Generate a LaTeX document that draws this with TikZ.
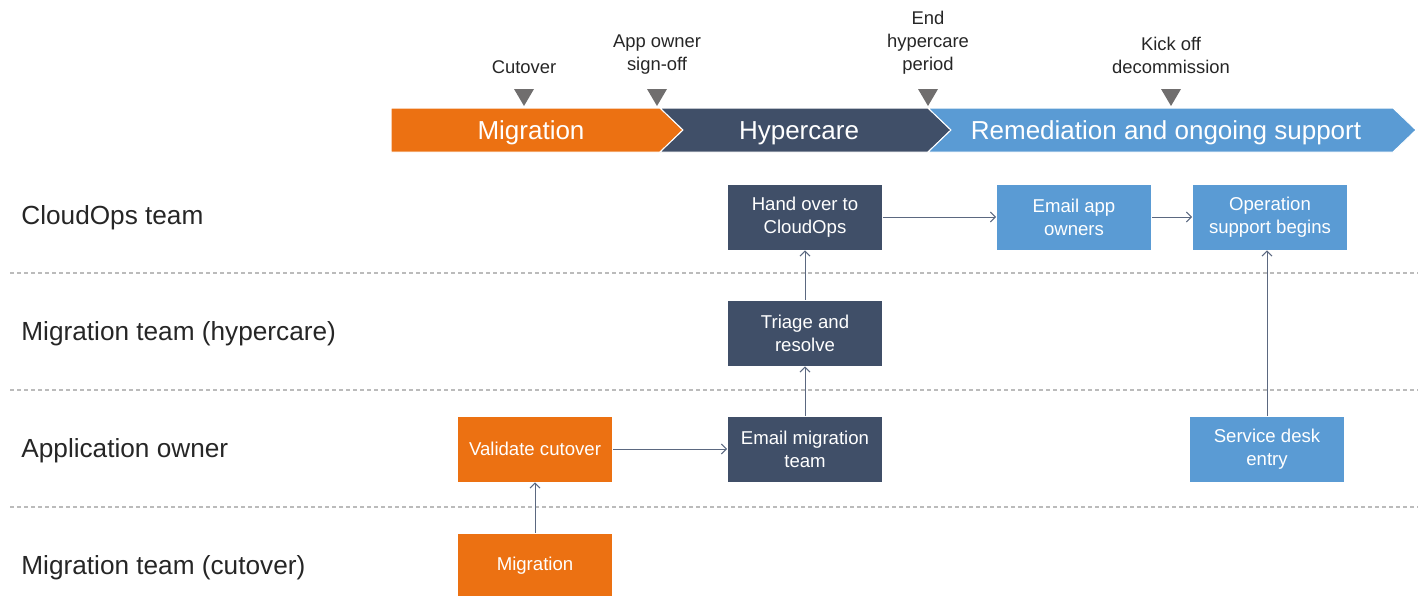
\documentclass[tikz,border=0pt]{standalone}
\usepackage{fontspec}
\setmainfont{Liberation Sans}
\usetikzlibrary{arrows.meta}

\definecolor{migorange}{HTML}{EC7112}
\definecolor{hypernavy}{HTML}{404F68}
\definecolor{remblue}{HTML}{5A9BD4}
\definecolor{mgray}{HTML}{706E6E}
\definecolor{linegray}{HTML}{5B6880}
\definecolor{lanegray}{HTML}{BBBBBB}

\begin{document}
\begin{tikzpicture}[x=0.5pt,y=-0.5pt,
    task/.style={minimum width=77.5pt,minimum height=33pt,inner sep=1pt,align=center,
        text=white,draw=white,line width=0.4pt,font=\fontsize{9.3}{11.5}\selectfont},
    lane/.style={anchor=base west,inner sep=0pt,text=black!85,font=\fontsize{13.1}{16}\selectfont},
    mile/.style={align=center,text=black!85,font=\fontsize{9.2}{11.5}\selectfont},
    phase/.style={anchor=base,text=white,font=\fontsize{13}{15}\selectfont},
    flow/.style={draw=linegray,line width=0.5pt,-{Straight Barb[length=2.5pt,width=5pt]}},
    sep/.style={draw=lanegray,line width=0.6pt,dash pattern=on 2pt off 1.5pt}]
    \useasboundingbox (0,0) rectangle (1422,595);

    % phase bar
    \fill[migorange,draw=white,line width=0.5pt] (391,108) -- (660,108) -- (683,130) -- (660,152) -- (391,152) -- cycle;
    \fill[hypernavy,draw=white,line width=0.5pt] (660,108) -- (928,108) -- (951,130) -- (928,152) -- (660,152) -- (683,130) -- cycle;
    \fill[remblue,draw=white,line width=0.5pt] (928,108) -- (1393,108) -- (1416,130) -- (1393,152) -- (928,152) -- (951,130) -- cycle;
    \node[phase] (pmig) at (531,139) {Migration};
    \node[phase] (phyp) at (799,139) {Hypercare};
    \node[phase] (prem) at (1166,139) {Remediation and ongoing support};

    % milestones
    \foreach \x in {524,657,928,1171}
        \fill[mgray] (\x-10,89) -- (\x+10,89) -- (\x,106) -- cycle;
    \node[mile] (mcut) at (524,67) {Cutover};
    \node[mile] (msign) at (657,55) {App owner\\sign-off};
    \node[mile] (mend) at (928,43) {End\\hypercare\\period};
    \node[mile] (mkick) at (1171,55) {Kick off\\decommission};

    % lanes
    \node[lane] (lcloud) at (21,224.5) {CloudOps team};
    \node[lane] (lhyper) at (21,340.5) {Migration team (hypercare)};
    \node[lane] (lowner) at (21,457.5) {Application owner};
    \node[lane] (lcut) at (21,574.5) {Migration team (cutover)};
    \draw[sep] (10,273) -- (1418,273);
    \draw[sep] (10,390) -- (1418,390);
    \draw[sep] (10,507) -- (1418,507);

    % tasks
    \node[task,fill=hypernavy] (handover) at (805,217) {Hand over to\\CloudOps};
    \node[task,fill=remblue] (emailapp) at (1074,217) {Email app\\owners};
    \node[task,fill=remblue] (opsupport) at (1270,217) {Operation\\support begins};
    \node[task,fill=hypernavy] (triage) at (805,333) {Triage and\\resolve};
    \node[task,fill=migorange] (validate) at (535,449) {Validate cutover};
    \node[task,fill=hypernavy] (emailmig) at (805,449) {Email migration\\team};
    \node[task,fill=remblue] (servdesk) at (1267,449) {Service desk\\entry};
    \node[task,fill=migorange] (migration) at (535,566) {Migration};

    \draw[flow] (migration) -- (validate);
    \draw[flow] (validate) -- (emailmig);
    \draw[flow] (emailmig) -- (triage);
    \draw[flow] (triage) -- (handover);
    \draw[flow] (handover) -- (emailapp);
    \draw[flow] (emailapp) -- (opsupport);
    \draw[flow] (servdesk) -- (servdesk |- opsupport.south);
\end{tikzpicture}
\end{document}
